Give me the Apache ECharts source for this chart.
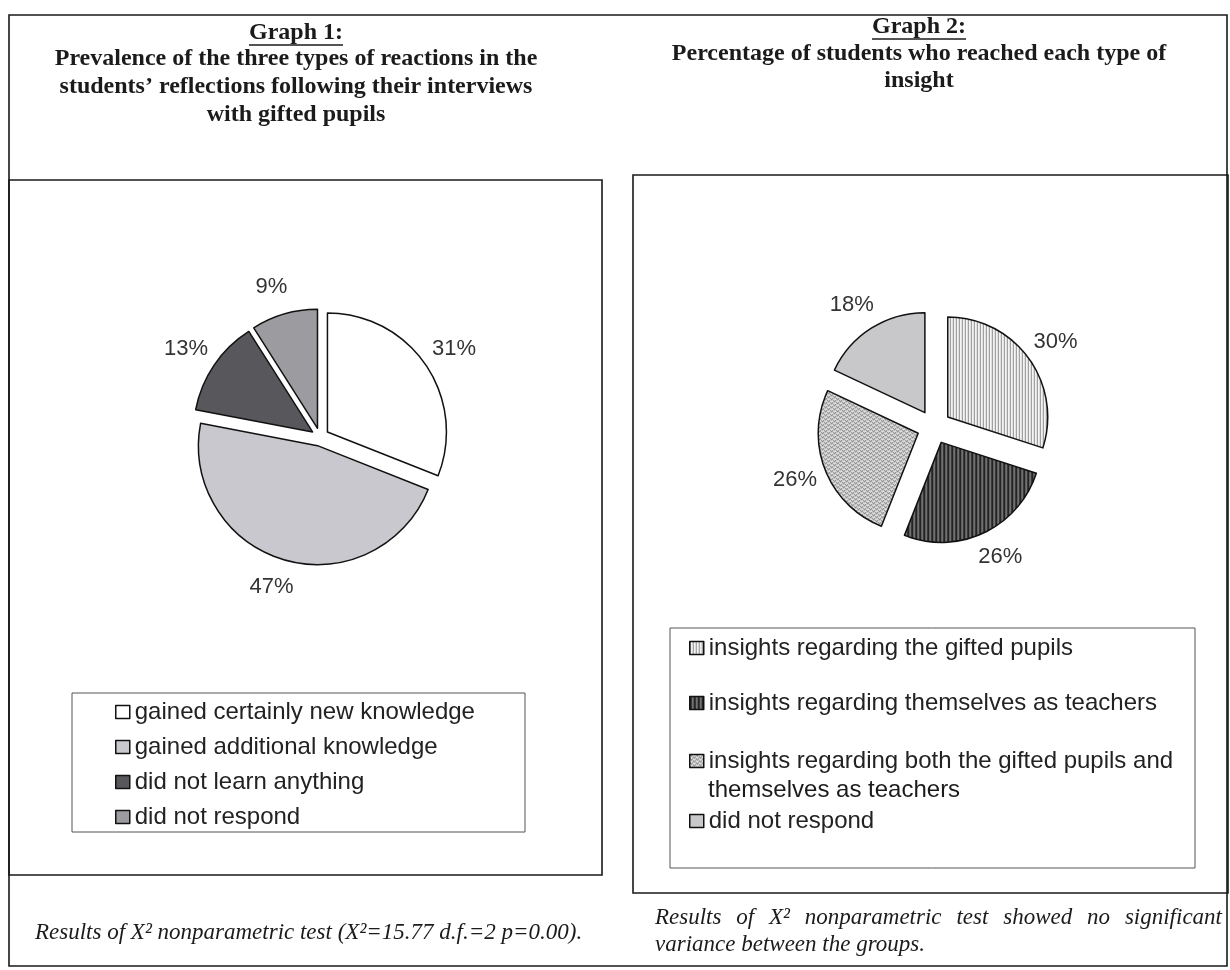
<!DOCTYPE html>
<html><head><meta charset="utf-8">
<script src="https://cdn.jsdelivr.net/npm/echarts@6/dist/echarts.min.js"></script>
<style>html,body{margin:0;padding:0;background:#fff}#c{width:1230px;height:970px}</style>
</head><body><div id="c"></div>
<script>
// ---- data ----
const pie1Names = ['gained certainly new knowledge', 'gained additional knowledge', 'did not learn anything', 'did not respond'];
const pie1Values = [31, 47, 13, 9];
const pie2Names = ['insights regarding the gifted pupils', 'insights regarding themselves as teachers', 'insights regarding both the gifted pupils and themselves as teachers', 'did not respond'];
const pie2Values = [30, 26, 26, 18];
const title1Lines = ['Prevalence of the three types of reactions in the', 'students\u2019 reflections following their interviews', 'with gifted pupils'];
const title2Lines = ['Percentage of students who reached each type of', 'insight'];
const note1 = 'Results of X\u00b2 nonparametric test (X\u00b2=15.77 d.f.=2 p=0.00).';
const note2Lines = ['Results of X\u00b2 nonparametric test showed no significant', 'variance between the groups.'];

// ---- styles ----
function pattern(type) {
  const c = document.createElement('canvas');
  const g = c.getContext('2d');
  if (type === 'vlight') {
    c.width = 3; c.height = 3;
    g.fillStyle = '#f3f3f3'; g.fillRect(0, 0, 3, 3);
    g.fillStyle = '#8e8e8e'; g.fillRect(0, 0, 1, 3);
  } else if (type === 'vdark') {
    c.width = 4; c.height = 4;
    g.fillStyle = '#727272'; g.fillRect(0, 0, 4, 4);
    g.fillStyle = '#242424'; g.fillRect(0, 0, 2, 4);
  } else {
    c.width = 6; c.height = 4;
    g.fillStyle = '#dedede'; g.fillRect(0, 0, 6, 4);
    g.fillStyle = '#5c5c5c';
    g.fillRect(0, 0, 1, 1); g.fillRect(1, 1, 1, 1); g.fillRect(2, 0, 1, 1);
    g.fillRect(3, 2, 1, 1); g.fillRect(4, 3, 1, 1); g.fillRect(5, 2, 1, 1);
  }
  return { image: c, repeat: 'repeat' };
}
const pie1Colors = ['#ffffff', '#c9c8ce', '#58585c', '#9c9ba0'];
const pie2Colors = [pattern('vlight'), pattern('vdark'), pattern('dots'), '#c8c8cb'];

const SANS = '"Liberation Sans", Arial, sans-serif';
const SERIF = '"Liberation Serif", "Times New Roman", serif';
const TITLE_FONT = 'bold 24px ' + SERIF;
const NOTE_FONT = 'italic 23px ' + SERIF;
const LEGEND_SIZE = 24;
const ink = '#1b1b1b';

const measure = (() => { const ctx = document.createElement('canvas').getContext('2d'); return (t, f) => { ctx.font = f; return ctx.measureText(t).width; }; })();

function txt(text, x, y, font, align) {
  return { type: 'text', x: x, y: y, silent: true,
    style: { text: text, font: font, fill: ink, align: align || 'center', textAlign: align || 'center', verticalAlign: 'middle', textVerticalAlign: 'middle' } };
}
function rect(x, y, w, h, lw, col) {
  return { type: 'rect', silent: true, shape: { x: x, y: y, width: w, height: h }, style: { fill: null, stroke: col || '#1a1a1a', lineWidth: lw } };
}
function underlined(text, cx, y, font) {
  const w = measure(text, font);
  return [txt(text, cx, y, font), { type: 'line', silent: true, shape: { x1: cx - w / 2, y1: y + 12, x2: cx + w / 2, y2: y + 12 }, style: { stroke: ink, lineWidth: 1.3 } }];
}
function justified(text, x, y, width, font) {
  const words = text.split(' ');
  const total = words.reduce((s, w) => s + measure(w, font), 0);
  const gap = (width - total) / (words.length - 1);
  let cx = x; const out = [];
  words.forEach(w => { out.push(txt(w, cx, y, font, 'left')); cx += measure(w, font) + gap; });
  return out;
}

const graphic = [
  rect(9, 15, 1218, 951, 1.6),
  rect(9, 180, 593, 695, 1.6),
  rect(633, 175, 595, 718, 1.6),
  rect(72, 693, 453, 139, 1, '#555'),
  rect(670, 628, 525, 240, 1, '#555'),
  ...underlined('Graph 1:', 296, 33, TITLE_FONT),
  ...title1Lines.map((t, i) => txt(t, 296, 59 + i * 28, TITLE_FONT)),
  ...underlined('Graph 2:', 919, 27, TITLE_FONT),
  ...title2Lines.map((t, i) => txt(t, 919, 54 + i * 27, TITLE_FONT)),
  txt(note1, 35, 933, NOTE_FONT, 'left'),
  ...justified(note2Lines[0], 655, 918, 567, NOTE_FONT),
  txt(note2Lines[1], 655, 945, NOTE_FONT, 'left'),
  txt('themselves as teachers', 708, 790, LEGEND_SIZE + 'px ' + SANS, 'left')
];

const legendBase = {
  orient: 'vertical', itemWidth: 14, itemHeight: 13, padding: 0, selectedMode: false, icon: 'rect',
  itemStyle: { borderColor: '#111', borderWidth: 1.5 },
  textStyle: { fontFamily: SANS, fontSize: LEGEND_SIZE, color: '#222', lineHeight: 26 }
};
const legend2Tops = [635, 690, 748, 808];
const legends = [
  Object.assign({}, legendBase, { left: 115, top: 699, itemGap: 9, data: pie1Names })
].concat(pie2Names.map((n, i) => Object.assign({}, legendBase, {
  left: 689, top: legend2Tops[i],
  data: [i === 3 ? { name: n, itemStyle: { color: pie2Colors[i] } } : n],
  formatter: i === 2 ? (() => 'insights regarding both the gifted pupils and') : '{name}'
})));

// centre each percentage label on the end of its (invisible) label line
function centreLabel(params) {
  const p = params.labelLinePoints;
  if (!p) return {};
  return { x: p[1][0], y: p[1][1] + 3, align: 'center', verticalAlign: 'middle' };
}

function pieSeries(names, values, colors, center, radius, offset, len) {
  return {
    type: 'pie', center: center, radius: radius, startAngle: 90, clockwise: true,
    selectedMode: 'multiple', selectedOffset: offset, avoidLabelOverlap: false,
    emphasis: { disabled: true },
    itemStyle: { borderColor: '#111', borderWidth: 1.5 },
    select: { itemStyle: { borderColor: '#111', borderWidth: 1.5 } },
    label: { show: true, position: 'outside', formatter: '{c}%', fontFamily: SANS, fontSize: 22, color: '#333' },
    labelLine: { show: true, length: len, length2: 0, lineStyle: { opacity: 0, width: 0 } },
    labelLayout: centreLabel,
    data: names.map((n, i) => ({ name: n, value: values[i], selected: true, itemStyle: { color: colors[i] } }))
  };
}

const chart = echarts.init(document.getElementById('c'), null, { renderer: 'canvas' });
chart.setOption({
  animation: false,
  backgroundColor: '#ffffff',
  graphic: graphic,
  legend: legends,
  series: [
    pieSeries(pie1Names, pie1Values, pie1Colors, [320, 437], 119, 9, 28),
    pieSeries(pie2Names, pie2Values, pie2Colors, [934, 427], 100, 17, 27)
  ]
});
</script>
</body></html>
